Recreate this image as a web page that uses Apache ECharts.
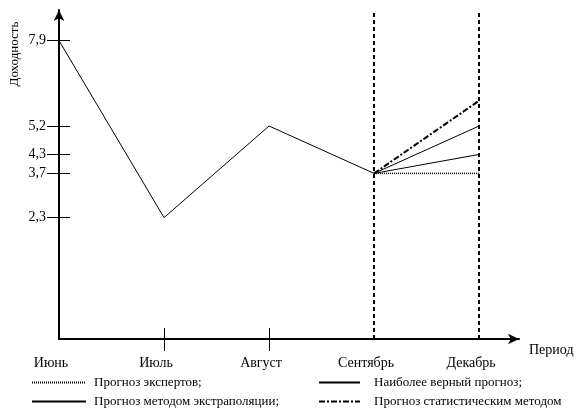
<!DOCTYPE html>
<html>
<head>
<meta charset="utf-8">
<script src="https://cdn.jsdelivr.net/npm/echarts@6/dist/echarts.min.js"></script>
<style>
html, body { margin: 0; padding: 0; background: #fff; }
#chart { width: 578px; height: 408px; }
</style>
</head>
<body>
<div id="chart"></div>
<script>
// периоды и фактическая доходность
var months = ['Июнь', 'Июль', 'Август', 'Сентябрь', 'Декабрь'];
var actual = [7.9, 2.3, 5.2, 3.7];
var yTicks = [2.3, 3.7, 4.3, 5.2, 7.9];
var xTicks = [1, 2]; // Июль, Август (у Сентября и Декабря - пунктир)

// прогнозы на декабрь (из точки сентября)
var forecastNames = ['Прогноз экспертов;', 'Наиболее верный прогноз;', 'Прогноз методом экстраполяции;', 'Прогноз статистическим методом'];
var forecastDec = [3.7, 4.3, 5.2, 6.0];

var FONT = 'Liberation Serif';
var sepIdx = months.indexOf('Сентябрь');
var decIdx = months.indexOf('Декабрь');

var lineTypes = [
  { type: [1, 1], width: 1.5 },
  { type: 'solid', width: 1 },
  { type: 'solid', width: 1 },
  { type: [6, 2, 2, 2], width: 2 }
];

function fmt(v) { return String(v).replace('.', ','); }

var chart = echarts.init(document.getElementById('chart'));

var series = [{
  name: 'Факт',
  type: 'line',
  symbol: 'none',
  color: '#000',
  data: actual.map(function (v, i) { return [i, v]; }),
  lineStyle: { color: '#000', width: 1 },
  markLine: {
    silent: true,
    symbol: 'none',
    label: { show: false },
    lineStyle: { color: '#000', type: [4, 3], width: 2 },
    data: [{ xAxis: sepIdx }, { xAxis: decIdx }]
  }
}];
forecastNames.forEach(function (n, k) {
  series.push({
    name: n,
    type: 'line',
    symbol: 'none',
    color: '#000',
    data: [[sepIdx, actual[sepIdx]], [decIdx, forecastDec[k]]],
    lineStyle: { color: '#000', type: lineTypes[k].type, width: lineTypes[k].width }
  });
});

function legendAt(name, left, top, w, gap) {
  return {
    data: [name],
    left: left,
    top: top,
    itemWidth: w,
    itemHeight: 12,
    selectedMode: false,
    itemStyle: { opacity: 0 },
    textStyle: { fontFamily: FONT, fontSize: 13, color: '#000', padding: [0, 0, 0, gap] }
  };
}

var yMin = -1.54, yMax = 8.87;
var xMax = 4.38;

chart.setOption({
  animation: false,
  grid: { left: 59, right: 59, top: 10, bottom: 69 },
  legend: [
    legendAt(forecastNames[0], 26, 371, 54, 3),
    legendAt(forecastNames[2], 26, 390, 54, 3),
    legendAt(forecastNames[1], 313, 371, 41, 9),
    legendAt(forecastNames[3], 313, 390, 41, 9)
  ],
  graphic: [{
    type: 'text',
    x: 15,
    y: 54,
    rotation: Math.PI / 2,
    style: { text: 'Доходность', font: '13px "Liberation Serif"', fill: '#000', align: 'center', verticalAlign: 'middle' }
  }],
  xAxis: [{
    type: 'value',
    min: 0,
    max: xMax,
    name: 'Период',
    nameLocation: 'end',
    nameGap: 10,
    nameTextStyle: { fontFamily: FONT, fontSize: 14, color: '#000', verticalAlign: 'top', padding: [4, 0, 0, 0] },
    axisLine: { onZero: false, lineStyle: { color: '#000', width: 2 }, symbol: ['none', 'arrow'], symbolSize: [8, 11] },
    axisTick: { show: true, length: 12, customValues: xTicks, lineStyle: { color: '#000' } },
    axisLabel: {
      customValues: months.map(function (m, i) { return i; }),
      formatter: function (v) { return months[v]; },
      margin: 17,
      padding: [0, 16, 0, 0],
      fontFamily: FONT, fontSize: 14, color: '#000'
    },
    splitLine: { show: false }
  }, {
    type: 'value',
    min: 0,
    max: xMax,
    position: 'bottom',
    axisLine: { show: false, onZero: false },
    axisTick: { show: true, inside: true, length: 11, customValues: xTicks, lineStyle: { color: '#000' } },
    axisLabel: { show: false },
    splitLine: { show: false }
  }],
  yAxis: [{
    type: 'value',
    min: yMin,
    max: yMax,
    axisLine: { show: true, onZero: false, lineStyle: { color: '#000', width: 2 }, symbol: ['none', 'arrow'], symbolSize: [8, 11] },
    axisTick: { show: true, length: 12, customValues: yTicks, lineStyle: { color: '#000' } },
    axisLabel: {
      customValues: yTicks,
      formatter: fmt,
      margin: 13,
      fontFamily: FONT, fontSize: 14, color: '#000'
    },
    splitLine: { show: false }
  }, {
    type: 'value',
    min: yMin,
    max: yMax,
    position: 'left',
    axisLine: { show: false, onZero: false },
    axisTick: { show: true, inside: true, length: 11, customValues: yTicks, lineStyle: { color: '#000' } },
    axisLabel: { show: false },
    splitLine: { show: false }
  }],
  series: series
});
</script>
</body>
</html>
